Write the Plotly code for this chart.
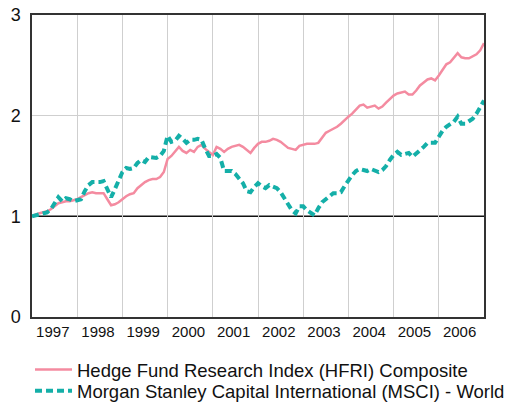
import plotly.graph_objects as go

start_year = 1997
years = [1997, 1998, 1999, 2000, 2001, 2002, 2003, 2004, 2005, 2006]
year_labels = [str(y) for y in years]

hfri = [
    1.00, 1.02, 1.03, 1.04, 1.05, 1.07, 1.10, 1.13, 1.14, 1.15, 1.15, 1.16,
    1.17, 1.19, 1.21, 1.23, 1.24, 1.23, 1.23, 1.23, 1.17, 1.11, 1.12, 1.14,
    1.17, 1.20, 1.22, 1.23, 1.28, 1.31, 1.34, 1.36, 1.37, 1.37, 1.39, 1.44,
    1.57, 1.60, 1.65, 1.69, 1.65, 1.63, 1.66, 1.64, 1.69, 1.71, 1.67, 1.64,
    1.61, 1.69, 1.67, 1.64, 1.67, 1.69, 1.70, 1.71, 1.69, 1.66, 1.63, 1.68,
    1.72, 1.74, 1.74, 1.75, 1.77, 1.76, 1.74, 1.71, 1.68, 1.67, 1.66, 1.70,
    1.71, 1.72, 1.72, 1.72, 1.73, 1.78, 1.83, 1.85, 1.87, 1.89, 1.92, 1.96,
    1.99, 2.02, 2.06, 2.10, 2.11, 2.08, 2.09, 2.10, 2.07, 2.09, 2.13, 2.17,
    2.20, 2.22, 2.23, 2.24, 2.21, 2.21, 2.25, 2.30, 2.33, 2.36, 2.37, 2.35,
    2.40, 2.46, 2.51, 2.53, 2.57, 2.62, 2.58, 2.57, 2.57, 2.59, 2.61, 2.65,
    2.72,
]

msci = [
    1.00, 1.01, 1.02, 1.03, 1.04, 1.07, 1.13, 1.19, 1.15, 1.18, 1.17, 1.15,
    1.16, 1.17, 1.25, 1.31, 1.34, 1.34, 1.34, 1.35, 1.27, 1.19, 1.27, 1.36,
    1.44, 1.48, 1.47, 1.48, 1.53, 1.56, 1.54, 1.59, 1.58, 1.58, 1.60, 1.65,
    1.80, 1.74, 1.75, 1.80, 1.77, 1.73, 1.76, 1.76, 1.77, 1.76, 1.67, 1.60,
    1.60, 1.62, 1.58, 1.45, 1.45, 1.45, 1.42, 1.38, 1.33, 1.25, 1.24, 1.29,
    1.33, 1.30, 1.28, 1.31, 1.30, 1.28, 1.24, 1.17, 1.12, 1.06, 1.03, 1.10,
    1.10, 1.06, 1.03, 1.01, 1.08, 1.14, 1.17, 1.20, 1.23, 1.23, 1.24, 1.30,
    1.36, 1.41, 1.45, 1.47, 1.46, 1.45, 1.47, 1.46, 1.44, 1.46, 1.50, 1.56,
    1.61, 1.64, 1.61, 1.62, 1.63, 1.59, 1.62, 1.65, 1.69, 1.73, 1.73, 1.73,
    1.79, 1.85, 1.89, 1.91, 1.94, 1.99, 1.92, 1.92, 1.94, 1.97, 2.02, 2.08,
    2.15,
]

x = [start_year + i / 12 for i in range(len(hfri))]

fig = go.Figure()
fig.add_trace(go.Scatter(
    x=x, y=hfri, mode="lines",
    name="Hedge Fund Research Index (HFRI) Composite",
    line=dict(color="#F48BA0", width=2.5),
    legend="legend",
))
fig.add_trace(go.Scatter(
    x=x, y=msci, mode="lines",
    name="Morgan Stanley Capital International (MSCI) - World",
    line=dict(color="#14AFA8", width=4, dash="7px,4px"),
    legend="legend2",
))
fig.add_hline(y=1, line=dict(color="#111111", width=1.5), layer="below")

legend_common = dict(
    x=-0.0044, xanchor="left", yanchor="middle",
    font=dict(size=18.5, color="#111111"),
    bgcolor="rgba(0,0,0,0)", itemwidth=37,
)

fig.update_layout(
    width=512, height=403,
    margin=dict(l=32, r=28, t=15, b=86, autoexpand=False),
    paper_bgcolor="white", plot_bgcolor="white",
    font=dict(family="Liberation Sans, Arial, sans-serif", color="#111111"),
    showlegend=True,
    legend=dict(y=-0.175, **legend_common),
    legend2=dict(y=-0.246, **legend_common),
)
fig.update_xaxes(
    range=[1997, 2007],
    tickvals=[y + 0.46 for y in years], ticktext=year_labels,
    tickfont=dict(size=15), ticks="", showgrid=False,
    minor=dict(tickvals=years[1:], showgrid=True, gridcolor="#CFCFCF", gridwidth=1.2),
    showline=True, linecolor="#333333", linewidth=1.5, mirror=True,
    zeroline=False, fixedrange=True, automargin=False,
)
fig.update_yaxes(
    range=[0, 3], tickvals=[0, 1, 2, 3], ticktext=["0", "1", "2", "3"],
    tickfont=dict(size=18), ticks="", showgrid=False,
    minor=dict(tickvals=[2], showgrid=True, gridcolor="#CFCFCF", gridwidth=1.2),
    showline=True, linecolor="#333333", linewidth=1.5, mirror=True,
    zeroline=False, ticklabelstandoff=6, automargin=False,
)

fig.write_html(
    "out.html",
    config={"displayModeBar": False},
    post_script="document.body.style.margin='0';document.body.style.padding='0';",
)
